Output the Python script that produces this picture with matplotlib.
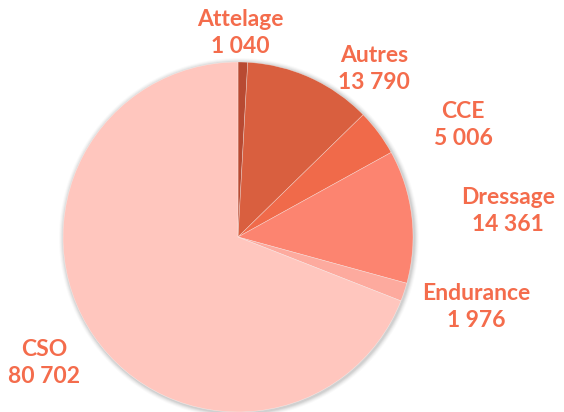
import matplotlib.pyplot as plt
from matplotlib.patches import Circle

# data
disciplines = ['Attelage', 'Autres', 'CCE', 'Dressage', 'Endurance', 'CSO']
counts = [1040, 13790, 5006, 14361, 1976, 80702]
labels = ['1 040', '13 790', '5 006', '14 361', '1 976', '80 702']
colors = ['#b84a32', '#d95f3f', '#f06a4a', '#fc8470', '#fdaa9e', '#ffc6be']

# label positions in pixels (x, y from top)
label_pos = [(240, 33), (374, 69), (463, 125), (508, 211), (476, 307), (44, 363)]

W, H = 564, 412
fig = plt.figure(figsize=(W / 100, H / 100), dpi=100)
ax = fig.add_axes([0, 0, 1, 1])

cx, cy, r = 238, H - 237, 175

# soft shadow round the pie
for i, a in enumerate([0.05, 0.05, 0.04, 0.03, 0.02]):
    ax.add_patch(Circle((cx + 1, cy - 1), r + 1 + i, color='#000000', alpha=a, lw=0, zorder=0))

ax.pie(counts, colors=colors, startangle=90, counterclock=False,
       center=(cx, cy), radius=r, wedgeprops=dict(linewidth=0.4, edgecolor='#ffffff80'))

for name, lab, (x, y) in zip(disciplines, labels, label_pos):
    ax.text(x, H - y, name + '\n' + lab, ha='center', va='center',
            fontsize=16.5, fontweight='bold', color='#f46c4c', family='Lato',
            linespacing=1.3)

ax.set_xlim(0, W)
ax.set_ylim(0, H)
ax.set_aspect('equal')
ax.axis('off')

fig.savefig('out.png', dpi=100)
